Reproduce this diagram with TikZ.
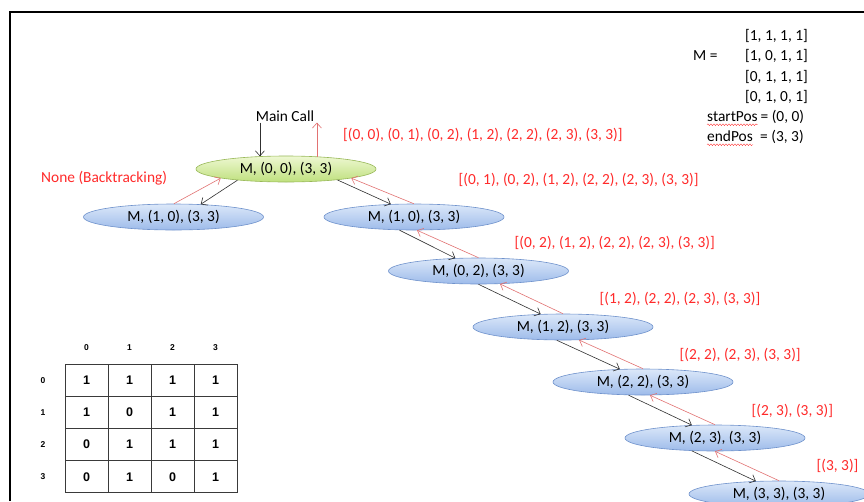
\documentclass[tikz,border=0pt]{standalone}
\usepackage{fontspec}
\setmainfont{Carlito}
\newfontfamily\gridfont{Liberation Sans}
\usetikzlibrary{shapes.geometric,arrows.meta,decorations.pathmorphing}
\definecolor{redtxt}{HTML}{FF2A2A}
\definecolor{redarr}{HTML}{E27272}
\definecolor{darkline}{HTML}{303030}
\definecolor{bluetop}{HTML}{DCE8F9}
\definecolor{bluebot}{HTML}{9DBBEA}
\definecolor{blueedge}{HTML}{6F92CC}
\definecolor{greentop}{HTML}{EEF8D2}
\definecolor{greenbot}{HTML}{BFE07E}
\definecolor{greenedge}{HTML}{98B858}
\definecolor{gridcol}{HTML}{3A3A3A}
\tikzset{
  mainfont/.style={font=\fontsize{15.4}{18}\selectfont},
  callblue/.style={ellipse, draw=blueedge, top color=bluetop, bottom color=bluebot,
    minimum width=180pt, minimum height=26pt, inner sep=0pt, line width=0.6pt, mainfont, text=black},
  callgreen/.style={callblue, draw=greenedge, top color=greentop, bottom color=greenbot},
  callarrow/.style={draw=darkline, line width=0.6pt, -{Straight Barb[length=5pt,width=9pt]}},
  retarrow/.style={draw=redarr, line width=0.6pt, -{Straight Barb[length=5pt,width=9pt]}},
  lbl/.style={text=redtxt, anchor=west, inner sep=0pt, mainfont},
  txt/.style={text=black, anchor=west, inner sep=0pt, mainfont},
  cell/.style={draw=gridcol, line width=0.8pt, minimum width=43pt, minimum height=32pt,
    inner sep=0pt, font=\gridfont\bfseries\fontsize{12.5}{14}\selectfont},
  hdr/.style={inner sep=0pt, font=\gridfont\bfseries\fontsize{8.5}{10}\selectfont},
  wavy/.style={draw=red!80, line width=0.35pt, decorate,
    decoration={snake, amplitude=0.9pt, segment length=3pt}},
}
\begin{document}
\begin{tikzpicture}[x=1pt,y=-1pt]
\useasboundingbox (0,0) rectangle (864,501);
\fill[white] (0,0) rectangle (864,501);
% frame
\draw[line width=2.6pt, black] (10,501) -- (10,12) -- (864,12);

% call tree nodes
\node[callgreen] (root) at (286,169) {M, (0, 0), (3, 3)};
\node[callblue] (n10a) at (173.5,217) {M, (1, 0), (3, 3)};
\node[callblue] (n10b) at (414,217) {M, (1, 0), (3, 3)};
\node[callblue] (n02) at (478.5,271) {M, (0, 2), (3, 3)};
\node[callblue] (n12) at (563,327) {M, (1, 2), (3, 3)};
\node[callblue] (n22) at (643,382) {M, (2, 2), (3, 3)};
\node[callblue] (n23) at (715,438) {M, (2, 3), (3, 3)};
\node[callblue] (n33) at (779,494) {M, (3, 3), (3, 3)};

\node[mainfont, inner sep=1pt] (maincall) at (285,116) {Main Call};
\draw[callarrow] (maincall.south -| root.154) -- (root.154);
\draw[retarrow] (root.22) -- (root.22 |- maincall.south);

% connectors
\draw[callarrow] (root.193) -- (n10a.25);
\draw[retarrow] (n10a.88) -- (root.188);
\draw[callarrow] (root.348) -- (n10b.151);
\draw[retarrow] (n10b.91) -- (root.352);
\draw[callarrow] (n10b.222) -- (n02.151);
\draw[retarrow] (n02.90) -- (n10b.283);
\draw[callarrow] (n02.270) -- (n12.150);
\draw[retarrow] (n12.90) -- (n02.329);
\draw[callarrow] (n12.245) -- (n22.151);
\draw[retarrow] (n22.90) -- (n12.321);
\draw[callarrow] (n22.222) -- (n23.151);
\draw[retarrow] (n23.90) -- (n22.298);
\draw[callarrow] (n23.209) -- (n33.151);
\draw[retarrow] (n33.90) -- (n23.270);

% red return labels
\node[lbl] (r0) at (343,135) {[(0, 0), (0, 1), (0, 2), (1, 2), (2, 2), (2, 3), (3, 3)]};
\node[lbl] (none) at (41,178) {None (Backtracking)};
\node[lbl] (r1) at (458.5,180) {[(0, 1), (0, 2), (1, 2), (2, 2), (2, 3), (3, 3)]};
\node[lbl] (r2) at (514.5,243) {[(0, 2), (1, 2), (2, 2), (2, 3), (3, 3)]};
\node[lbl] (r3) at (599.5,299) {[(1, 2), (2, 2), (2, 3), (3, 3)]};
\node[lbl] (r4) at (679.5,355) {[(2, 2), (2, 3), (3, 3)]};
\node[lbl] (r5) at (751.5,411) {[(2, 3), (3, 3)]};
\node[lbl] (r6) at (816.5,466) {[(3, 3)]};

% matrix description
\node[txt] (meq) at (693,56) {M =};
\node[txt] (m0) at (745,36) {[1, 1, 1, 1]};
\node[txt] (m1) at (745,56) {[1, 0, 1, 1]};
\node[txt] (m2) at (745,76.5) {[0, 1, 1, 1]};
\node[txt] (m3) at (745,96.5) {[0, 1, 0, 1]};
\node[txt, anchor=base west] (sp) at (707,121.5) {startPos};
\node[txt, anchor=base west] (spv) at ([xshift=2.5pt]sp.base east) {= (0, 0)};
\node[txt, anchor=base west] (ep) at (707,141.5) {endPos};
\node[txt, anchor=base west] (epv) at ([xshift=7pt]ep.base east) {= (3, 3)};
\draw[wavy] ([yshift=-3.2pt]sp.base west) -- ([yshift=-3.2pt]sp.base east);
\draw[wavy] ([yshift=-3.2pt]ep.base west) -- ([yshift=-3.2pt]ep.base east);

% grid
\foreach \c in {0,...,3} {
  \node[hdr] (ch\c) at ({86.5+43*\c},348) {\c};
  \node[hdr] (rh\c) at (43,{380.2+32.2*\c}) {\c};
}
\foreach \r/\vals in {0/{1,1,1,1},1/{1,0,1,1},2/{0,1,1,1},3/{0,1,0,1}} {
  \foreach \v [count=\ci from 0] in \vals {
    \node[cell] (c\r\ci) at ({86.5+43*\ci},{380.2+32.2*\r}) {\v};
  }
}
\end{tikzpicture}
\end{document}
